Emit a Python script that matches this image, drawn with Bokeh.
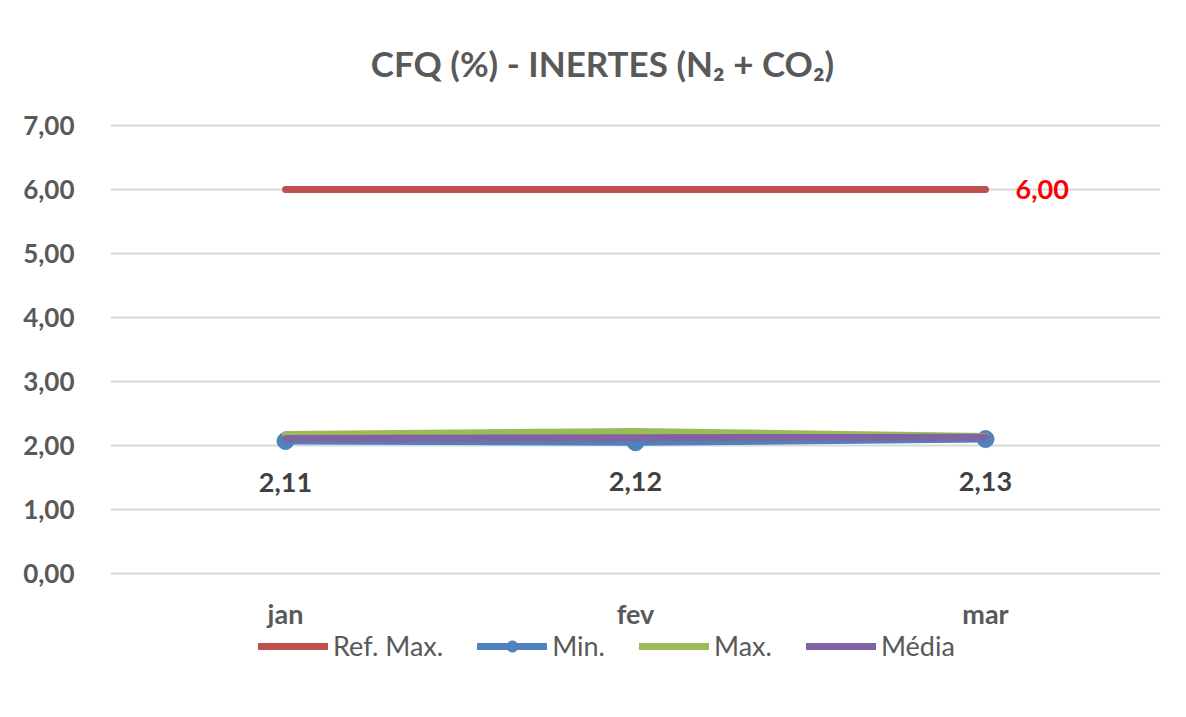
from bokeh.plotting import figure
from bokeh.models import (FactorRange, Range1d, FixedTicker, CustomJSTickFormatter,
                          Legend, LegendItem, ColumnDataSource)
from bokeh.core.properties import value
from bokeh.embed import file_html
from bokeh.resources import INLINE

months = ["jan", "fev", "mar"]
ref_max = [6.00, 6.00, 6.00]
min_vals = [2.07, 2.05, 2.10]
max_vals = [2.17, 2.22, 2.14]
media_vals = [2.11, 2.12, 2.13]
y_ticks = [0, 1, 2, 3, 4, 5, 6, 7]
title_text = "CFQ (%) - INERTES (N\u2082 + CO\u2082)"

W, H = 1180, 712
PX = 64.0  # pixels per unit
Y0 = 573   # pixel row of value 0
p = figure(x_range=FactorRange(*months, range_padding=0),
           y_range=Range1d(-(H - Y0) / PX, Y0 / PX),
           width=W, height=H, output_backend="svg", toolbar_location=None,
           x_axis_location=None,
           min_border_left=110, min_border_right=20, min_border_top=0,
           min_border_bottom=0)
p.outline_line_color = None
p.background_fill_color = "white"
p.border_fill_color = "white"

# y axis
p.yaxis.ticker = FixedTicker(ticks=y_ticks)
p.yaxis.formatter = CustomJSTickFormatter(code="return tick.toFixed(2).replace('.', ',');")
p.yaxis.axis_line_color = None
p.yaxis.major_tick_line_color = None
p.yaxis.minor_tick_line_color = None
p.yaxis.major_label_standoff = 30
p.yaxis.major_label_text_font = "Lato"
p.yaxis.major_label_text_font_style = "bold"
p.yaxis.major_label_text_font_size = "26px"
p.yaxis.major_label_text_color = "#595959"

p.xgrid.grid_line_color = None
p.ygrid.grid_line_color = "#D9D9D9"
p.ygrid.grid_line_width = 2

src = ColumnDataSource(dict(m=months, zero=[0] * len(months), ref=ref_max, mn=min_vals,
                            mx=max_vals, md=media_vals,
                            mdl=[f"{v:.2f}".replace(".", ",") for v in media_vals]))

LW = 7
r_ref = p.line("m", "ref", source=src, line_color="#C0504D", line_width=LW, line_cap="round")
r_min = p.line("m", "mn", source=src, line_color="#4F81BD", line_width=LW, line_cap="round")
r_minm = p.scatter("m", "mn", source=src, size=17, marker="circle",
                   fill_color="#4F81BD", line_color="#4F81BD")
r_max = p.line("m", "mx", source=src, line_color="#9BBB59", line_width=LW, line_cap="round")
r_med = p.line("m", "md", source=src, line_color="#8064A2", line_width=LW, line_cap="round")

# category labels (x axis)
p.text("m", "zero", text="m", source=src, y_offset=40, text_align="center",
       text_baseline="middle", text_font=value("Lato"), text_font_style="bold",
       text_font_size="27px", text_color="#595959")

# data labels
p.text("m", "md", text="mdl", source=src, y_offset=44, text_align="center",
       text_baseline="middle", text_font=value("Lato"), text_font_style="bold",
       text_font_size="27px", text_color="#404040")
ref_lbl = ColumnDataSource(dict(m=[months[-1]], v=[ref_max[-1]],
                                t=[f"{ref_max[-1]:.2f}".replace(".", ",")]))
p.text("m", "v", text="t", source=ref_lbl, x_offset=30, text_align="left",
       text_baseline="middle", text_font=value("Lato"), text_font_style="bold",
       text_font_size="27px", text_color="#FF0000")

# title
p.text(x=[(602 - 110) / 350.0], y=[(Y0 - 62) / PX], text=[title_text], text_align="center",
       text_baseline="middle", text_font=value("Lato"), text_font_style="bold",
       text_font_size="35px", text_color="#595959")

legend = Legend(items=[
    LegendItem(label="Ref. Max.", renderers=[r_ref]),
    LegendItem(label="Min.", renderers=[r_min, r_minm]),
    LegendItem(label="Max.", renderers=[r_max]),
    LegendItem(label="Média", renderers=[r_med]),
], orientation="horizontal", location=(148, H - 662))
legend.glyph_width = 70
legend.glyph_height = 28
legend.label_standoff = 5
legend.spacing = 34
legend.padding = 0
legend.margin = 0
legend.border_line_color = None
legend.background_fill_alpha = 0
legend.label_text_font = "Lato"
legend.label_text_font_size = "27px"
legend.label_text_color = "#595959"
p.add_layout(legend)

open("out.html", "w").write(file_html(p, INLINE))
